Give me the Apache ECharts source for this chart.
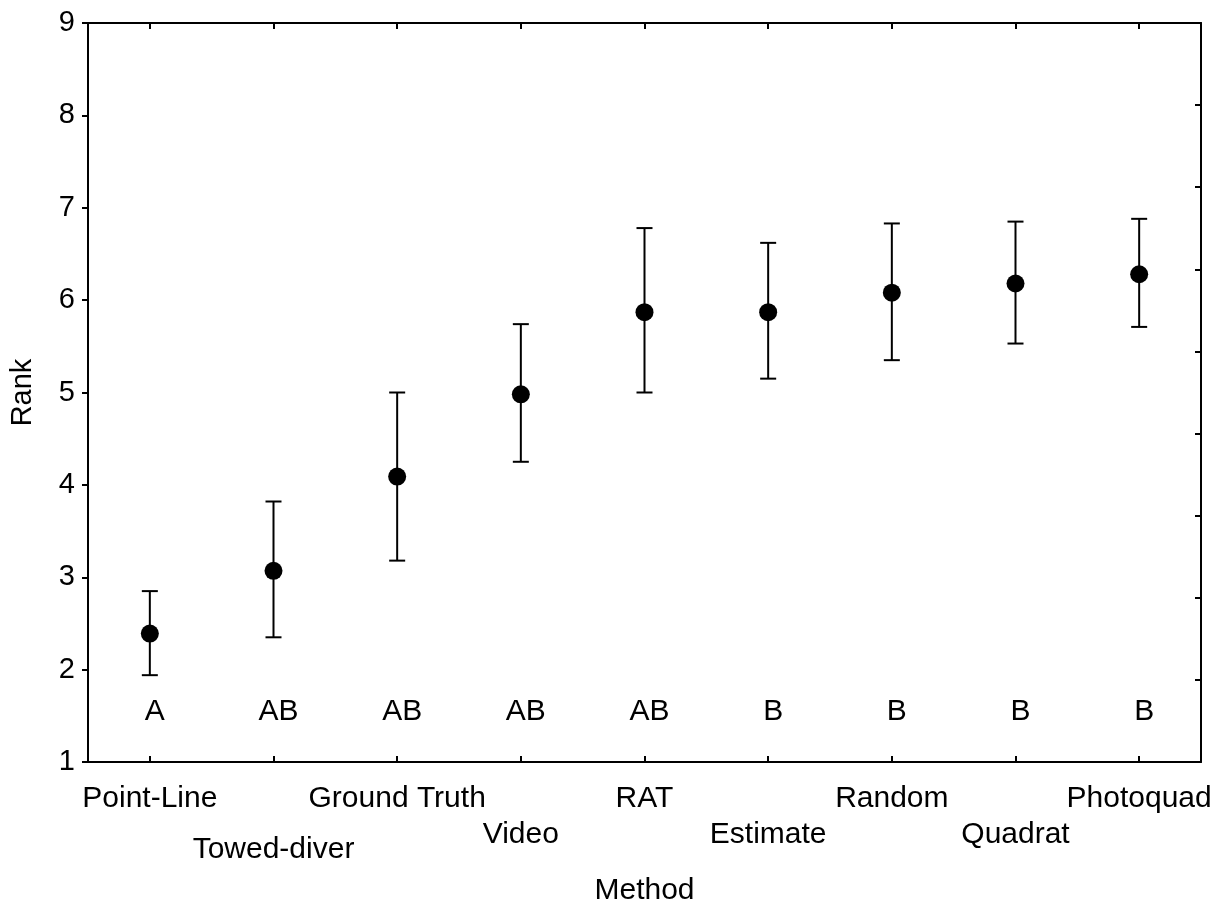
<!DOCTYPE html>
<html>
<head>
<meta charset="utf-8">
<script src="https://cdn.jsdelivr.net/npm/echarts@6/dist/echarts.min.js"></script>
<style>
  html, body { margin: 0; padding: 0; background: #fff; }
  #chart { width: 1225px; height: 903px; }
</style>
</head>
<body>
<div id="chart"></div>
<script>
// rank per method
const categories = ['Point-Line', 'Towed-diver', 'Ground Truth', 'Video', 'RAT', 'Estimate', 'Random', 'Quadrat', 'Photoquad'];
const means = [2.39, 3.07, 4.09, 4.98, 5.87, 5.87, 6.08, 6.18, 6.28];
const upper = [2.85, 3.82, 5.00, 5.74, 6.78, 6.62, 6.83, 6.85, 6.88];
const lower = [1.94, 2.35, 3.18, 4.25, 5.00, 5.15, 5.35, 5.53, 5.71];
const letters = ['A', 'AB', 'AB', 'AB', 'AB', 'B', 'B', 'B', 'B'];
const letterLevel = 1.54;

const FONT = '"Liberation Sans", Arial, sans-serif';
const chart = echarts.init(document.getElementById('chart'));

const option = {
  animation: false,
  backgroundColor: '#fff',
  textStyle: { fontFamily: FONT, color: '#000' },
  grid: { left: 88, right: 24, top: 23, bottom: 141, containLabel: false, outerBoundsMode: 'none' },
  xAxis: [
    {
      type: 'category',
      data: categories,
      name: 'Method',
      nameLocation: 'middle',
      nameGap: 114,
      nameTextStyle: { fontSize: 30, color: '#000', fontFamily: FONT },
      axisLine: { lineStyle: { color: '#000', width: 2 } },
      axisTick: { show: true, inside: true, length: 6, alignWithLabel: true, lineStyle: { color: '#000', width: 2 } },
      axisLabel: {
        interval: 0,
        margin: 22,
        color: '#000',
        fontSize: 30,
        fontFamily: FONT,
        formatter(value, idx) {
          // labels are staggered on two rows, Towed-diver sits a little lower
          if (idx === 1) return '{s2| }\n{t|' + value + '}';
          return idx % 2 ? '{s1| }\n{t|' + value + '}' : '{t|' + value + '}';
        },
        rich: {
          t: { fontSize: 30, lineHeight: 30, fontFamily: FONT, color: '#000' },
          s1: { fontSize: 10, lineHeight: 36 },
          s2: { fontSize: 10, lineHeight: 51 },
        },
      },
      splitLine: { show: false },
    },
    {
      type: 'category',
      data: categories,
      position: 'top',
      axisLine: { lineStyle: { color: '#000', width: 2 } },
      axisTick: { show: true, inside: true, length: 6, alignWithLabel: true, lineStyle: { color: '#000', width: 2 } },
      axisLabel: { show: false },
      splitLine: { show: false },
    },
  ],
  yAxis: [
    {
      type: 'value',
      min: 1,
      max: 9,
      interval: 1,
      name: 'Rank',
      nameLocation: 'middle',
      nameGap: 51,
      nameRotate: 90,
      nameTextStyle: { fontSize: 29, color: '#000', fontFamily: FONT },
      axisLine: { show: true, lineStyle: { color: '#000', width: 2 } },
      axisTick: { show: true, length: 6, lineStyle: { color: '#000', width: 2 } },
      axisLabel: { margin: 13, fontSize: 29, color: '#000', fontFamily: FONT },
      splitLine: { show: false },
    },
    {
      type: 'value',
      position: 'right',
      min: 0,
      max: 9,
      interval: 1,
      axisLine: { show: true, lineStyle: { color: '#000', width: 2 } },
      axisTick: { show: true, inside: true, length: 6, lineStyle: { color: '#000', width: 2 } },
      axisLabel: { show: false },
      splitLine: { show: false },
    },
  ],
  series: [
    {
      name: 'error',
      type: 'custom',
      xAxisIndex: 0,
      yAxisIndex: 0,
      data: categories.map((c, i) => [i, lower[i], upper[i]]),
      renderItem(params, api) {
        const lo = api.coord([api.value(0), api.value(1)]);
        const hi = api.coord([api.value(0), api.value(2)]);
        const half = 8;
        const style = { stroke: '#000', lineWidth: 2, fill: null };
        return {
          type: 'group',
          children: [
            { type: 'line', shape: { x1: hi[0], y1: hi[1], x2: lo[0], y2: lo[1] }, style },
            { type: 'line', shape: { x1: hi[0] - half, y1: hi[1], x2: hi[0] + half, y2: hi[1] }, style },
            { type: 'line', shape: { x1: lo[0] - half, y1: lo[1], x2: lo[0] + half, y2: lo[1] }, style },
          ],
        };
      },
      z: 2,
    },
    {
      name: 'mean',
      type: 'scatter',
      xAxisIndex: 0,
      yAxisIndex: 0,
      data: means.map((v, i) => [i, v]),
      symbol: 'circle',
      symbolSize: 18,
      itemStyle: { color: '#000', opacity: 1 },
      z: 3,
    },
    {
      name: 'groups',
      type: 'custom',
      xAxisIndex: 0,
      yAxisIndex: 0,
      data: letters.map((l, i) => [i, letterLevel]),
      renderItem(params, api) {
        const p = api.coord([api.value(0), api.value(1)]);
        return {
          type: 'text',
          x: p[0] + 5,
          y: p[1],
          style: {
            text: letters[params.dataIndex],
            fontSize: 30,
            fontFamily: FONT,
            fill: '#000',
            align: 'center',
            verticalAlign: 'middle',
          },
        };
      },
      z: 3,
    },
  ],
};

chart.setOption(option);
window.addEventListener('resize', () => { chart.resize(); });
</script>
</body>
</html>
